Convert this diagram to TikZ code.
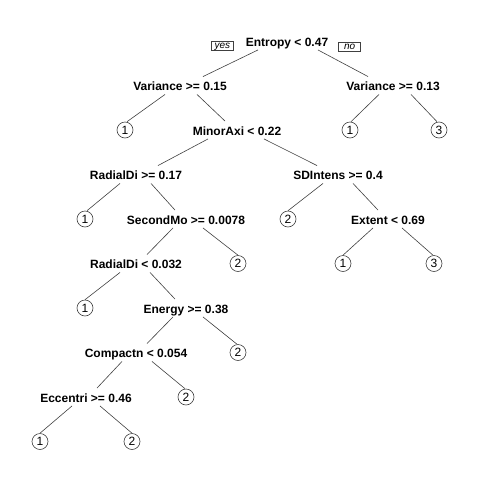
\documentclass[tikz,border=0pt]{standalone}
\usepackage{fontspec}
\setmainfont{Liberation Sans}
\usepackage{tikz}
\usetikzlibrary{positioning}
\tikzstyle{split} = [font=\fontsize{12}{14}\selectfont\bfseries, text height=13pt, text depth=2.5pt, inner xsep=0pt, inner ysep=1pt]
\tikzstyle{leaf} = [circle, draw=black!75, line width=0.6pt, minimum size=16pt, inner sep=0pt, font=\fontsize{12}{14}\selectfont]
\tikzstyle{tag} = [rectangle, draw=black!75, line width=0.5pt, minimum width=22pt, text height=5pt, text depth=0pt, inner xsep=1pt, inner ysep=2pt, font=\fontsize{10}{10}\selectfont\itshape]
\tikzstyle{branch} = [draw=black!75, line width=0.6pt]

\begin{document}
\begin{tikzpicture}[x=1pt, y=-1pt, node distance=44.5pt]
\useasboundingbox (0,0) rectangle (480,480);
\node (entropy) [split] at (287,41) {Entropy < 0.47};
\node (yes) [tag, left=12pt of entropy, yshift=-5pt] {yes};
\node (no) [tag, right=10pt of entropy, yshift=-6pt] {no};
\node (varl) [split, below of=entropy, xshift=-107pt] {Variance >= 0.15};
\node (varr) [split, below of=entropy, xshift=106pt] {Variance >= 0.13};
\node (leafa) [leaf, below of=varl, xshift=-55pt] {1};
\node (minor) [split, below of=varl, xshift=57pt] {MinorAxi < 0.22};
\node (leafb) [leaf, below of=varr, xshift=-43pt] {1};
\node (leafc) [leaf, below of=varr, xshift=46pt] {3};
\node (radiala) [split, below of=minor, xshift=-101pt] {RadialDi >= 0.17};
\node (sdint) [split, below of=minor, xshift=101pt] {SDIntens >= 0.4};
\node (leafd) [leaf, below of=radiala, xshift=-51pt] {1};
\node (second) [split, below of=radiala, xshift=50pt] {SecondMo >= 0.0078};
\node (leafe) [leaf, below of=sdint, xshift=-50pt] {2};
\node (extent) [split, below of=sdint, xshift=50pt] {Extent < 0.69};
\node (radialb) [split, below of=second, xshift=-50pt] {RadialDi < 0.032};
\node (leaff) [leaf, below of=second, xshift=52pt] {2};
\node (leafg) [leaf, below of=extent, xshift=-45pt] {1};
\node (leafh) [leaf, below of=extent, xshift=46pt] {3};
\node (leafi) [leaf, below of=radialb, xshift=-51pt] {1};
\node (energy) [split, below of=radialb, xshift=50pt] {Energy >= 0.38};
\node (compact) [split, below of=energy, xshift=-50pt] {Compactn < 0.054};
\node (leafj) [leaf, below of=energy, xshift=52pt] {2};
\node (eccent) [split, below of=compact, xshift=-50pt] {Eccentri >= 0.46};
\node (leafk) [leaf, below of=compact, xshift=50pt] {2};
\node (leafl) [leaf, below of=eccent, xshift=-46pt] {1};
\node (leafm) [leaf, below of=eccent, xshift=46pt] {2};
\draw [branch] ([xshift=-29pt]entropy.south) -- ([xshift=23pt]varl.north);
\draw [branch] ([xshift=31pt]entropy.south) -- ([xshift=-25pt]varr.north);
\draw [branch] ([xshift=-15pt]varl.south) -- ([xshift=2pt]leafa.north);
\draw [branch] ([xshift=17pt]varl.south) -- ([xshift=-12pt]minor.north);
\draw [branch] ([xshift=-14pt]varr.south) -- ([xshift=1pt]leafb.north);
\draw [branch] ([xshift=18pt]varr.south) -- ([xshift=-2pt]leafc.north);
\draw [branch] ([xshift=-29pt]minor.south) -- ([xshift=22pt]radiala.north);
\draw [branch] ([xshift=27pt]minor.south) -- ([xshift=-21pt]sdint.north);
\draw [branch] ([xshift=-16pt]radiala.south) -- ([xshift=2pt]leafd.north);
\draw [branch] ([xshift=15pt]radiala.south) -- ([xshift=-11pt]second.north);
\draw [branch] ([xshift=-15pt]sdint.south) -- (leafe.north);
\draw [branch] ([xshift=15pt]sdint.south) -- ([xshift=-10pt]extent.north);
\draw [branch] ([xshift=-13pt]second.south) -- ([xshift=11pt]radialb.north);
\draw [branch] ([xshift=17pt]second.south) -- (leaff.north);
\draw [branch] ([xshift=-15pt]extent.south) -- (leafg.north);
\draw [branch] ([xshift=14pt]extent.south) -- ([xshift=-1pt]leafh.north);
\draw [branch] ([xshift=-16pt]radialb.south) -- (leafi.north);
\draw [branch] ([xshift=14pt]radialb.south) -- ([xshift=-11pt]energy.north);
\draw [branch] ([xshift=-13pt]energy.south) -- ([xshift=11pt]compact.north);
\draw [branch] ([xshift=17pt]energy.south) -- ([xshift=-1pt]leafj.north);
\draw [branch] ([xshift=-14pt]compact.south) -- ([xshift=11pt]eccent.north);
\draw [branch] ([xshift=16pt]compact.south) -- ([xshift=-1pt]leafk.north);
\draw [branch] ([xshift=-14pt]eccent.south) -- (leafl.north);
\draw [branch] ([xshift=14pt]eccent.south) -- (leafm.north);
\end{tikzpicture}
\end{document}
